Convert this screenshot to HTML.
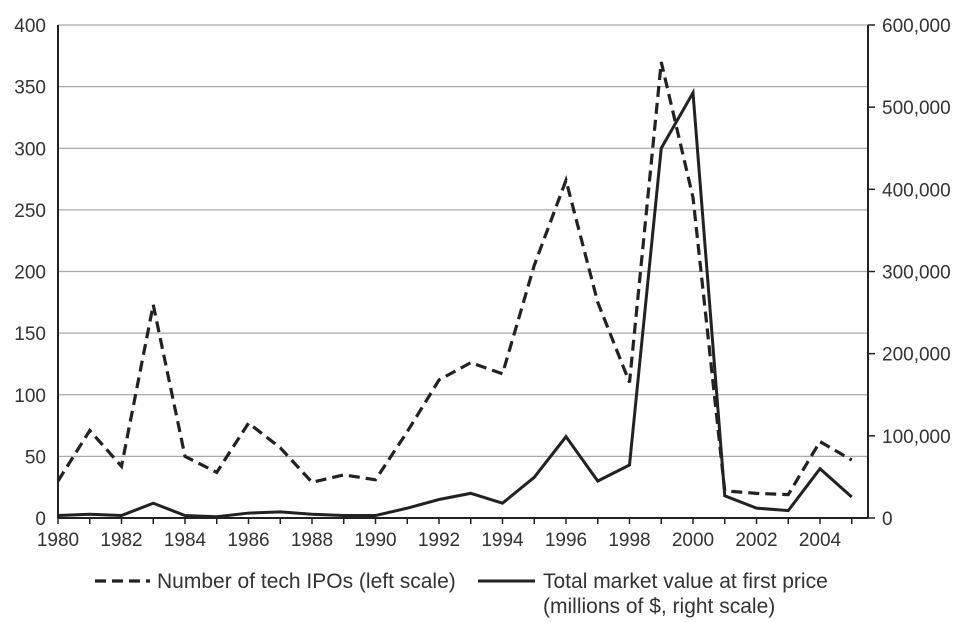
<!DOCTYPE html>
<html><head><meta charset="utf-8"><style>
html,body{margin:0;padding:0;background:#fff;}
svg{display:block;}
text{font-family:"Liberation Sans",Arial,sans-serif;font-size:19px;fill:#333;}
text.lg{font-size:21px;}
</style></head><body>
<svg id="s" width="977" height="622" xmlns="http://www.w3.org/2000/svg">
<g id="grid" stroke="#aaa" stroke-width="1.2"></g>
<g id="ax"></g>
<polyline id="d" fill="none" stroke="#222" stroke-width="3.2" stroke-dasharray="11,6"/>
<polyline id="l" fill="none" stroke="#222" stroke-width="3"/>
<line x1="95" y1="581" x2="150" y2="581" stroke="#222" stroke-width="3.2" stroke-dasharray="11,6"/>
<text class="lg" x="157" y="588">Number of tech IPOs (left scale)</text>
<line x1="478" y1="581" x2="535" y2="581" stroke="#222" stroke-width="3"/>
<text class="lg" x="543" y="588">Total market value at first price</text>
<text class="lg" x="543" y="613">(millions of $, right scale)</text>
</svg>
<script>
var X0=58,DX=31.75,Y0=518,K=493/400;
function x(i){return X0+i*DX;}function y(v){return Y0-v*K;}
var ns="http://www.w3.org/2000/svg";
function el(t,a,p,txt){var e=document.createElementNS(ns,t);for(var k in a)e.setAttribute(k,a[k]);if(txt!=null)e.textContent=txt;document.getElementById(p||"s").appendChild(e);return e;}
for(var v=50;v<=400;v+=50)el("line",{x1:X0,x2:868,y1:y(v),y2:y(v)},"grid");
el("line",{x1:X0,x2:X0,y1:y(400),y2:Y0,stroke:"#222","stroke-width":2},"ax");
el("line",{x1:868,x2:868,y1:y(400),y2:Y0,stroke:"#222","stroke-width":2},"ax");
el("line",{x1:X0,x2:868,y1:Y0,y2:Y0,stroke:"#222","stroke-width":2},"ax");
for(var v=0;v<=400;v+=50){el("text",{x:46,y:y(v)+7,"text-anchor":"end"},"ax",String(v));}
for(var i=0;i<=6;i++){var yy=Y0-i*100000*(493/600000);el("line",{x1:868,x2:875,y1:yy,y2:yy,stroke:"#222","stroke-width":1.5},"ax");
el("text",{x:882,y:yy+7},"ax",i==0?"0":(i*100)+",000");}
for(var i=0;i<=25;i++){el("line",{x1:x(i),x2:x(i),y1:Y0,y2:Y0+6,stroke:"#222","stroke-width":1.5},"ax");
if(i%2==0&&i<25)el("text",{x:x(i),y:Y0+28,"text-anchor":"middle"},"ax",String(1980+i));}
var d=[30,71,42,173,50,37,77,57,29,35,31,70,112,126,117,205,274,175,110,370,260,22,20,19,62,47];
var l=[2,3,2,12,2,1,4,5,3,2,2,8,15,20,12,33,66,30,43,300,345,18,8,6,40,17];
document.getElementById("d").setAttribute("points",d.map(function(v,i){return x(i)+","+y(v)}).join(" "));
document.getElementById("l").setAttribute("points",l.map(function(v,i){return x(i)+","+y(v)}).join(" "));
</script>
</body></html>
